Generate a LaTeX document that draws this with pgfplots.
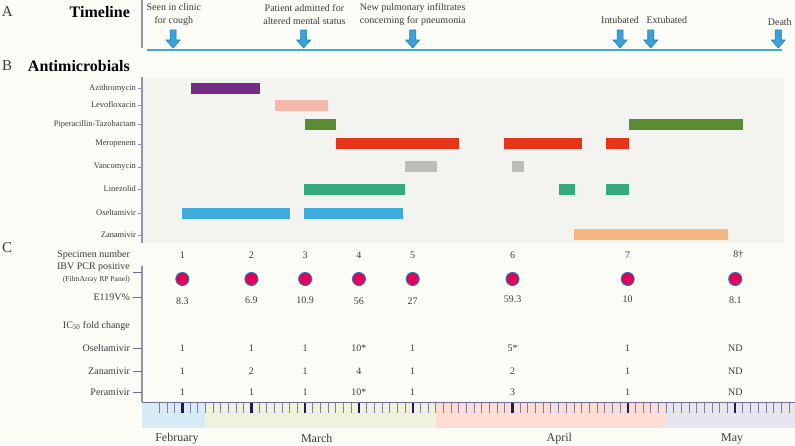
\documentclass[border=0pt]{standalone}
\usepackage{pgfplots}
\pgfplotsset{compat=1.18}
\usepackage{fontspec}
\setmainfont{Liberation Serif}
\definecolor{bgc}{HTML}{FCFCF7}
\definecolor{panel}{HTML}{F3F3EF}
\definecolor{txt}{HTML}{3A3A3A}
\definecolor{arrowfill}{HTML}{3AA1D9}
\definecolor{arrowdraw}{HTML}{1E7DB8}
\definecolor{tline}{HTML}{43A7DA}
\definecolor{azi}{HTML}{732D85}
\definecolor{levo}{HTML}{F6B8AA}
\definecolor{pip}{HTML}{5A8C34}
\definecolor{mero}{HTML}{E63419}
\definecolor{vanco}{HTML}{BCBDB6}
\definecolor{linez}{HTML}{35A980}
\definecolor{oselt}{HTML}{3DADDF}
\definecolor{zana}{HTML}{F6B77F}
\definecolor{feb}{HTML}{D7EBF4}
\definecolor{mar}{HTML}{F0F2DE}
\definecolor{apr}{HTML}{FBDDD6}
\definecolor{may}{HTML}{E7E6EE}
\definecolor{dotfill}{HTML}{E2005A}
\definecolor{dotdraw}{HTML}{2677B5}
\definecolor{axc}{HTML}{6D6D8E}
\definecolor{vaxc}{HTML}{9494B0}
\definecolor{minort}{HTML}{7E7E9E}
\definecolor{majort}{HTML}{1C1C5C}
\pgfdeclareplotmark{darrow}{%
  \pgfpathmoveto{\pgfpoint{0pt}{0pt}}%
  \pgfpathlineto{\pgfpoint{-7pt}{8pt}}%
  \pgfpathlineto{\pgfpoint{-3pt}{8pt}}%
  \pgfpathlineto{\pgfpoint{-3pt}{18pt}}%
  \pgfpathlineto{\pgfpoint{3pt}{18pt}}%
  \pgfpathlineto{\pgfpoint{3pt}{8pt}}%
  \pgfpathlineto{\pgfpoint{7pt}{8pt}}%
  \pgfpathclose
  \pgfusepathqfillstroke}
\newcommand{\fs}[1]{\fontsize{#1}{#1}\selectfont}
\newcommand{\V}[3]{\node[inner sep=0pt, text=txt, font=\fs{10}] at (axis cs:#1,#2) {#3};}
\newcommand{\CL}[3]{\node[inner sep=0pt, anchor=east, text=txt, font=\fs{#3}] at (axis cs:-6.8,#1) {#2};}
\newcommand{\RL}[2]{\node[inner sep=0pt, anchor=east, text=txt, font=\fs{8.4}] at (axis cs:-6.02,#1) {#2};}
\begin{document}
\begin{tikzpicture}
\fill[bgc] (0,0) rectangle (795pt,445pt);
\begin{axis}[
  scale only axis, width=795pt, height=445pt,
  at={(0,0)}, anchor=south west,
  xmin=-23.74, xmax=79.78, ymin=0, ymax=445, y dir=reverse,
  axis lines=none, clip=false,
]
% ---------- Panel A: timeline ----------
\addplot[vaxc, line width=1.2pt] coordinates {(-5.24,0) (-5.24,48)};
\addplot[tline, line width=2.2pt] coordinates {(-4.6,50) (78.1,50)};
\addplot[only marks, mark=darrow, mark options={fill=arrowfill, draw=arrowdraw, line width=0.6pt}]
  coordinates {(-1.2,48) (15.8,48) (30.0,48) (57.0,48) (61.0,48) (77.6,48)};
\node[inner sep=0pt, text=txt, font=\fs{15}] at (axis cs:-22.8,12) {A};
\node[inner sep=0pt, anchor=east, font=\bfseries\fs{16}] at (axis cs:-6.8,12) {Timeline};
\node[inner sep=0pt, align=center, text=txt, font=\fontsize{10}{13}\selectfont] at (axis cs:-1.1,14.5) {Seen in clinic\\for cough};
\node[inner sep=0pt, align=center, text=txt, font=\fontsize{10}{13}\selectfont] at (axis cs:15.9,14.5) {Patient admitted for\\altered mental status};
\node[inner sep=0pt, align=center, text=txt, font=\fontsize{10}{13}\selectfont] at (axis cs:30.0,14.5) {New pulmonary infiltrates\\concerning for pneumonia};
\node[inner sep=0pt, text=txt, font=\fs{10}] at (axis cs:57.0,20) {Intubated};
\node[inner sep=0pt, text=txt, font=\fs{10}] at (axis cs:63.1,20) {Extubated};
\node[inner sep=0pt, text=txt, font=\fs{10}] at (axis cs:77.8,22.5) {Death};
% ---------- Panel B: antimicrobials ----------
\node[inner sep=0pt, text=txt, font=\fs{15}] at (axis cs:-22.8,66) {B};
\node[inner sep=0pt, anchor=east, font=\bfseries\fs{16}] at (axis cs:-6.8,66) {Antimicrobials};
\addplot[fill=panel, draw=none] coordinates {(-5.12,78) (78.4,78) (78.4,243) (-5.12,243)} -- cycle;
\addplot[vaxc, line width=1.2pt] coordinates {(-5.24,77) (-5.24,243)};
\addplot[only marks, mark=-, mark size=2pt, mark options={vaxc, line width=0.8pt}]
  coordinates {(-5.5,88) (-5.5,105) (-5.5,124) (-5.5,144) (-5.5,167) (-5.5,189) (-5.5,213) (-5.5,235)};
\RL{88}{Azithromycin}
\RL{105}{Levofloxacin}
\RL{124}{Piperacillin-Tazobactam}
\RL{144}{Meropenem}
\RL{167}{Vancomycin}
\RL{189}{Linezolid}
\RL{213}{Oseltamivir}
\RL{235}{Zanamivir}
\pgfplotsset{bar/.style={line width=11pt, line cap=butt, unbounded coords=jump}}
\addplot[bar, azi]   coordinates {(1.1,88) (10.1,88)};
\addplot[bar, levo]  coordinates {(12.1,105) (19.0,105)};
\addplot[bar, pip]   coordinates {(16.0,124) (20.0,124) (20.0,nan) (58.2,124) (73.0,124)};
\addplot[bar, mero]  coordinates {(20.0,143) (36.0,143) (36,nan) (41.9,143) (52.0,143) (52,nan) (55.2,143) (58.2,143)};
\addplot[bar, vanco] coordinates {(29.0,166) (33.2,166) (33.2,nan) (42.9,166) (44.5,166)};
\addplot[bar, linez] coordinates {(15.9,189) (29.0,189) (29,nan) (49.0,189) (51.1,189) (51.1,nan) (55.2,189) (58.2,189)};
\addplot[bar, oselt] coordinates {(0.0,213) (14.0,213) (14,nan) (15.9,213) (28.7,213)};
\addplot[bar, zana]  coordinates {(51.0,234) (71.0,234)};
% ---------- Panel C ----------
\node[inner sep=0pt, text=txt, font=\fs{15}] at (axis cs:-22.8,248) {C};
\addplot[vaxc, line width=1.2pt] coordinates {(-5.24,266) (-5.24,402)};
\addplot[only marks, mark=-, mark size=4.5pt, mark options={axc, line width=0.9pt}]
  coordinates {(-5.82,272) (-5.82,297) (-5.82,348) (-5.82,371) (-5.82,392)};
\CL{255}{Specimen number}{10}
\CL{267}{IBV PCR positive}{10}
\CL{279.5}{(FilmArray RP Panel)}{7.6}
\CL{297}{E119V\%}{10}
\CL{326}{IC\textsubscript{50} fold change}{10}
\CL{348}{Oseltamivir}{10}
\CL{371}{Zanamivir}{10}
\CL{392}{Peramivir}{10}
\V{0}{255}{1}\V{9}{255}{2}\V{16}{255}{3}\V{23}{255}{4}\V{30}{255}{5}\V{43}{255}{6}\V{58}{255}{7}\V{72.4}{255}{8\textdagger}
\addplot[only marks, mark=*, mark size=6.5pt, mark options={fill=dotfill, draw=dotdraw, line width=1pt}]
  coordinates {(0,279) (9,279) (16,279) (23,279) (30,279) (43,279) (58,279) (72,279)};
\V{0}{301}{8.3}\V{9}{300}{6.9}\V{16}{300}{10.9}\V{23}{301}{56}\V{30}{301}{27}\V{43}{299.5}{59.3}\V{58}{299}{10}\V{72}{300}{8.1}
\V{0}{348}{1}\V{9}{348}{1}\V{16}{348}{1}\V{23}{348}{10*}\V{30}{348}{1}\V{43}{348}{5*}\V{58}{348}{1}\V{72}{348}{ND}
\V{0}{371}{1}\V{9}{371}{2}\V{16}{371}{1}\V{23}{371}{4}\V{30}{371}{1}\V{43}{371}{2}\V{58}{371}{1}\V{72}{371}{ND}
\V{0}{392}{1}\V{9}{392}{1}\V{16}{392}{1}\V{23}{392}{10*}\V{30}{392}{1}\V{43}{392}{3}\V{58}{392}{1}\V{72}{392}{ND}
% ---------- time axis ----------
\addplot[fill=feb, draw=none] coordinates {(-5.25,402) (3,402) (3,428) (-5.25,428)} -- cycle;
\addplot[fill=mar, draw=none] coordinates {(3,402) (33,402) (33,428) (3,428)} -- cycle;
\addplot[fill=apr, draw=none] coordinates {(33,402) (63,402) (63,428) (33,428)} -- cycle;
\addplot[fill=may, draw=none] coordinates {(63,402) (79.78,402) (79.78,428) (63,428)} -- cycle;
\addplot[only marks, mark=|, mark size=5pt, mark options={minort, line width=0.9pt}]
  coordinates {(-3,408)(-2,408)(-1,408)(1,408)(2,408)(3,408)(4,408)(5,408)(6,408)(7,408)(8,408)
  (10,408)(11,408)(12,408)(13,408)(14,408)(15,408)(17,408)(18,408)(19,408)(20,408)(21,408)(22,408)
  (24,408)(25,408)(26,408)(27,408)(28,408)(29,408)(31,408)(32,408)(33,408)(34,408)(35,408)(36,408)
  (37,408)(38,408)(39,408)(40,408)(41,408)(42,408)(44,408)(45,408)(46,408)(47,408)(48,408)(49,408)
  (50,408)(51,408)(52,408)(53,408)(54,408)(55,408)(56,408)(57,408)(59,408)(60,408)(61,408)(62,408)
  (63,408)(64,408)(65,408)(66,408)(67,408)(68,408)(69,408)(70,408)(71,408)(73,408)(74,408)(75,408)
  (76,408)(77,408)(78,408)(79,408)};
\addplot[only marks, mark=|, mark size=5pt, mark options={majort, line width=2.4pt}]
  coordinates {(0,408) (9,408) (16,408) (23,408) (30,408) (43,408) (58,408) (72,408)};
\addplot[axc, line width=1.4pt] coordinates {(-5.25,402.3) (79.78,402.3)};
\node[inner sep=0pt, text=txt, font=\fs{12}] at (axis cs:-0.7,438.5) {February};
\node[inner sep=0pt, text=txt, font=\fs{12}] at (axis cs:17.5,438.5) {March};
\node[inner sep=0pt, text=txt, font=\fs{12}] at (axis cs:49.1,438.5) {April};
\node[inner sep=0pt, text=txt, font=\fs{12}] at (axis cs:71.6,438.5) {May};
\end{axis}
\pgfresetboundingbox
\useasboundingbox (0,0) rectangle (795pt,445pt);
\end{tikzpicture}
\end{document}
